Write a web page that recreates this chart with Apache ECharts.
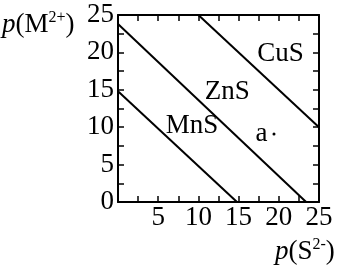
<!DOCTYPE html>
<html><head><meta charset="utf-8">
<script src="https://cdn.jsdelivr.net/npm/echarts@6/dist/echarts.min.js"></script>
<style>html,body{margin:0;padding:0;background:#fff}#c{width:338px;height:272px}</style>
</head><body><div id="c"></div>
<script>
const xTicks = ['5','10','15','20','25'];
const yTicks = ['0','5','10','15','20','25'];
const mnsX = [0, 14.8], mnsY = [14.8, 0];
const znsX = [0, 23.4], znsY = [23.8, 0];
const cusX = [10, 25], cusY = [25, 10];
const lineNames = ['MnS','ZnS','CuS'];
const labelX = [9.2, 13.6, 20.2];
const labelY = [10.2, 14.7, 19.8];
const pointName = ['a'];
const pointX = [19.4];
const pointY = [9.1];

const F = 'Liberation Serif';
const FS = 27;
const chart = echarts.init(document.getElementById('c'), null, {renderer:'canvas'});
function pairs(xs, ys){ return xs.map((x,i)=>[x, ys[i]]); }
const tickStyle = {show:true, inside:true, length:6, lineStyle:{color:'#000', width:1.5}};
const lineStyleAx = {show:true, onZero:false, lineStyle:{color:'#000', width:2}};
const lbl = {fontFamily:F, fontSize:FS, color:'#000', textBorderWidth:0, textShadowBlur:0, opacity:1};
const series = [
  {type:'line', data:pairs(mnsX,mnsY), symbol:'none', lineStyle:{color:'#000', width:2}},
  {type:'line', data:pairs(znsX,znsY), symbol:'none', lineStyle:{color:'#000', width:2}},
  {type:'line', data:pairs(cusX,cusY), symbol:'none', lineStyle:{color:'#000', width:2}},
  {type:'scatter', data:labelX.map((x,i)=>({value:[x,labelY[i]], name:lineNames[i]})), symbolSize:0,
   itemStyle:{color:'#000', opacity:1},
   label:Object.assign({show:true, position:'inside', formatter:p=>p.name}, lbl)},
  {type:'scatter', data:pointX.map((x,i)=>({value:[x,pointY[i]], name:pointName[i]})), symbolSize:3,
   itemStyle:{color:'#000', opacity:1},
   label:Object.assign({show:true, position:'left', distance:5, formatter:p=>p.name}, lbl)}
];
const rich = {
  i:{fontFamily:F, fontStyle:'italic', fontSize:FS, color:'#000', lineHeight:30, verticalAlign:'bottom'},
  n:{fontFamily:F, fontSize:FS, color:'#000', lineHeight:30, verticalAlign:'bottom'},
  s:{fontFamily:F, fontSize:16, color:'#000', lineHeight:30, verticalAlign:'top', padding:[2,0,0,0]}
};
chart.setOption({
  animation:false,
  grid:{left:118, right:19, top:15, bottom:70},
  xAxis:[
    {type:'value', min:0, max:25, interval:2.5, position:'bottom',
     axisLine:lineStyleAx, axisTick:tickStyle, splitLine:{show:false},
     axisLabel:Object.assign({margin:2,
       formatter:v=>{const s=String(v); return xTicks.indexOf(s)>=0?s:'';}}, lbl)},
    {type:'value', min:0, max:25, interval:2.5, position:'top',
     axisLine:lineStyleAx, axisTick:tickStyle, splitLine:{show:false}, axisLabel:{show:false}}
  ],
  yAxis:[
    {type:'value', min:0, max:25, interval:2.5, position:'left',
     axisLine:lineStyleAx, axisTick:tickStyle, splitLine:{show:false},
     axisLabel:Object.assign({margin:4,
       formatter:v=>{const s=String(v); return yTicks.indexOf(s)>=0?s:'';}}, lbl)},
    {type:'value', min:0, max:25, interval:2.5, position:'right',
     axisLine:lineStyleAx, axisTick:tickStyle, splitLine:{show:false}, axisLabel:{show:false}}
  ],
  graphic:[
    {type:'text', left:2, top:8, style:{text:'{i|p}{n|(M}{s|2+}{n|)}', rich:rich}},
    {type:'text', left:275, top:235, style:{text:'{i|p}{n|(S}{s|2-}{n|)}', rich:rich}}
  ],
  series:series
});
</script></body></html>
